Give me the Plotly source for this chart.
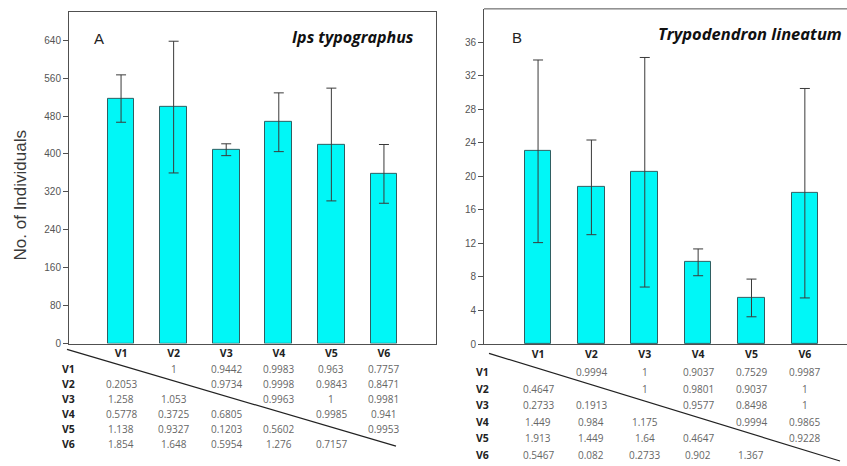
import plotly.graph_objects as go

categories = ["V1", "V2", "V3", "V4", "V5", "V6"]

# Panel A: Ips typographus
ips_mean = [517, 499, 409, 467, 420, 358]
ips_err = [50, 139, 12.5, 62, 119, 62]
ips_ticks = [0, 80, 160, 240, 320, 400, 480, 560, 640]
ips_table = [
    ["", "1", "0.9442", "0.9983", "0.963", "0.7757"],
    ["0.2053", "", "0.9734", "0.9998", "0.9843", "0.8471"],
    ["1.258", "1.053", "", "0.9963", "1", "0.9981"],
    ["0.5778", "0.3725", "0.6805", "", "0.9985", "0.941"],
    ["1.138", "0.9327", "0.1203", "0.5602", "", "0.9953"],
    ["1.854", "1.648", "0.5954", "1.276", "0.7157", ""],
]

# Panel B: Trypodendron lineatum
try_mean = [23.0, 18.7, 20.5, 9.75, 5.5, 18.0]
try_err = [10.9, 5.65, 13.7, 1.6, 2.25, 12.5]
try_ticks = [0, 4, 8, 12, 16, 20, 24, 28, 32, 36]
try_table = [
    ["", "0.9994", "1", "0.9037", "0.7529", "0.9987"],
    ["0.4647", "", "1", "0.9801", "0.9037", "1"],
    ["0.2733", "0.1913", "", "0.9577", "0.8498", "1"],
    ["1.449", "0.984", "1.175", "", "0.9994", "0.9865"],
    ["1.913", "1.449", "1.64", "0.4647", "", "0.9228"],
    ["0.5467", "0.082", "0.2733", "0.902", "1.367", ""],
]

W, H = 847, 466
def px(x):
    return x / W
def py(y):
    return 1 - y / H

BAR_FILL = "#00f7f7"
BAR_LINE = "#2f5f62"
AX = "#505050"

fig = go.Figure()
for xa, ya, mean, err, bw in [("x", "y", ips_mean, ips_err, 0.51),
                              ("x2", "y2", try_mean, try_err, 0.50)]:
    fig.add_trace(go.Bar(
        x=categories, y=mean, xaxis=xa, yaxis=ya, width=bw,
        marker=dict(color=BAR_FILL, line=dict(color=BAR_LINE, width=1)),
        error_y=dict(type="data", array=err, visible=True, color="#3a3a3a",
                     thickness=1, width=5),
        showlegend=False,
    ))

tickfont = dict(family="Liberation Sans, Arial", size=10, color="#555")
hdrfont = dict(family="Open Sans", size=10.5, color="#222", weight="bold")

fig.update_layout(
    width=W, height=H, margin=dict(l=0, r=0, t=0, b=0),
    paper_bgcolor="white", plot_bgcolor="white",
    bargap=0,
    xaxis=dict(domain=[px(69), px(436)], anchor="y", type="category",
               range=[-0.99, 5.99], showline=True, linecolor=AX, linewidth=1,
               mirror=True, ticks="", tickfont=hdrfont, showgrid=False,
               zeroline=False),
    yaxis=dict(domain=[py(348), py(12)], anchor="x", range=[0, 700],
               tickvals=ips_ticks, showline=True, linecolor=AX, linewidth=1,
               mirror=True, ticks="outside", ticklen=5, tickcolor=AX,
               tickfont=tickfont, showgrid=False, zeroline=False),
    xaxis2=dict(domain=[px(484), 1.0], anchor="y2", type="category",
                range=[-1.013, 5.79], showline=True, linecolor=AX, linewidth=1,
                ticks="", tickfont=hdrfont, showgrid=False, zeroline=False),
    yaxis2=dict(domain=[py(348.5), py(9)], anchor="x2", range=[0, 40],
                tickvals=try_ticks, showline=True, linecolor=AX, linewidth=1,
                ticks="outside", ticklen=5, tickcolor=AX,
                tickfont=tickfont, showgrid=False, zeroline=False),
)

ann = []
shapes = []
# top border for panel B
shapes.append(dict(type="line", xref="paper", yref="paper",
                   x0=px(484), x1=1.0, y0=py(9), y1=py(9),
                   line=dict(color=AX, width=1)))

# panel labels and species names
ann += [
    dict(x=px(92), y=py(39), xref="paper", yref="paper", text="A",
         showarrow=False, xanchor="left", yanchor="middle",
         font=dict(family="Liberation Sans, Arial", size=15, color="#222")),
    dict(x=px(416), y=py(37), xref="paper", yref="paper", text="<b><i>Ips typographus</i></b>",
         showarrow=False, xanchor="right", yanchor="middle",
         font=dict(family="Open Sans", size=16, color="#111")),
    dict(x=px(510), y=py(38), xref="paper", yref="paper", text="B",
         showarrow=False, xanchor="left", yanchor="middle",
         font=dict(family="Liberation Sans, Arial", size=15, color="#222")),
    dict(x=px(844), y=py(34), xref="paper", yref="paper", text="<b><i>Trypodendron lineatum</i></b>",
         showarrow=False, xanchor="right", yanchor="middle",
         font=dict(family="Open Sans", size=16.5, color="#111")),
    dict(x=px(20), y=py(198), xref="paper", yref="paper", text="No. of Individuals",
         showarrow=False, textangle=-90, xanchor="center", yanchor="middle",
         font=dict(family="Liberation Sans, Arial", size=17, color="#3a3a3a")),
]

rowfont = dict(family="Open Sans", size=10.5, color="#222", weight="bold")
valfont = dict(family="Open Sans", size=10, color="#666")

def table(xref, rows_y, label_x, data):
    for r, cat in enumerate(categories):
        ann.append(dict(x=px(label_x), y=py(rows_y[r]), xref="paper", yref="paper",
                        text=cat, showarrow=False, xanchor="center", yanchor="middle",
                        font=rowfont))
        for c in range(len(categories)):
            v = data[r][c]
            if v:
                ann.append(dict(x=c, y=py(rows_y[r]), xref=xref, yref="paper",
                                text=v, showarrow=False, xanchor="center",
                                yanchor="middle", font=valfont))

table("x", [374.3, 389.3, 404.3, 419.3, 434.3, 449.3], 68, ips_table)
table("x2", [376.7, 393.7, 410.3, 427.3, 444, 460.7], 482, try_table)

shapes.append(dict(type="line", xref="paper", yref="paper",
                   x0=px(67), y0=py(354), x1=px(396), y1=py(452),
                   line=dict(color="#222", width=1.2)))
shapes.append(dict(type="line", xref="paper", yref="paper",
                   x0=px(489), y0=py(358), x1=px(840), y1=py(467),
                   line=dict(color="#222", width=1.2)))

fig.update_layout(annotations=ann, shapes=shapes)
fig.write_html("out.html")
